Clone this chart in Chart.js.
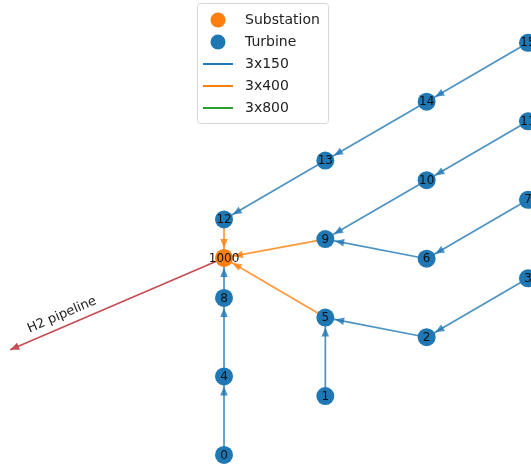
<!DOCTYPE html>
<html>
<head>
<meta charset="utf-8">
<script src="https://cdn.jsdelivr.net/npm/chart.js@4.4.1/dist/chart.umd.min.js"></script>
<style>
  body { margin: 0; background: #fff; }
  #wrap { position: relative; width: 531px; height: 464px; }
</style>
</head>
<body>
<div id="wrap"><canvas id="layoutChart"></canvas></div>
<script>
// Turbines (grid positions, arbitrary units)
const turbineIds = [0, 1, 2, 3, 4, 5, 6, 7, 8, 9, 10, 11, 12, 13, 14, 15];
const turbineX = [0, 1, 2, 3, 0, 1, 2, 3, 0, 1, 2, 3, 0, 1, 2, 3];
const turbineY = [0, 0.75, 1.5, 2.25, 1, 1.75, 2.5, 3.25, 2, 2.75, 3.5, 4.25, 3, 3.75, 4.5, 5.25];

// Substation
const substationId = 1000;
const substationX = 0;
const substationY = 2.51;

// Cables: from -> to, cable type
const edgeFrom = [0, 4, 8, 12, 13, 14, 1, 5, 9, 10, 11, 6, 7, 2, 3, 15];
const edgeTo   = [4, 8, 1000, 1000, 12, 13, 5, 1000, 1000, 9, 10, 9, 6, 5, 2, 14];
const edgeType = ['3x150', '3x150', '3x150', '3x400', '3x150', '3x150', '3x150', '3x400', '3x400', '3x150', '3x150', '3x150', '3x150', '3x150', '3x150', '3x150'];

// Export pipeline
const pipelineLabel = 'H2 pipeline';
const pipelineEnd = [-2.11, 1.34];

const cableColors = { '3x150': '#1f77b4', '3x400': '#ff7f0e', '3x800': '#2ca02c' };
const edgeColors = { '3x150': 'rgba(31,119,180,0.8)', '3x400': 'rgba(255,127,14,0.8)', '3x800': 'rgba(44,160,44,0.8)' };
const legendNodes = ['Substation', 'Turbine'];
const legendCables = ['3x150', '3x400', '3x800'];

function nodePos(id) {
    if (id === substationId) return [substationX, substationY];
    const i = turbineIds.indexOf(id);
    return [turbineX[i], turbineY[i]];
}

const NODE_R = 9;

// Edge datasets
const edgeDatasets = edgeFrom.map(function (f, k) {
    const a = nodePos(f), b = nodePos(edgeTo[k]);
    return {
        type: 'line',
        data: [{ x: a[0], y: a[1] }, { x: b[0], y: b[1] }],
        borderColor: edgeColors[edgeType[k]],
        borderWidth: 1.7,
        pointRadius: 0,
        showLine: true,
        order: 2,
        clip: false,
        arrow: true
    };
});

const pipelineDataset = {
    type: 'line',
    data: [{ x: substationX, y: substationY }, { x: pipelineEnd[0], y: pipelineEnd[1] }],
    borderColor: '#c44e52',
    borderWidth: 1.7,
    pointRadius: 0,
    showLine: true,
    order: 2,
    clip: false,
    arrow: true,
    pipeline: true
};

// Arrowheads, node labels, pipeline label, legend
const overlayPlugin = {
    id: 'overlay',
    afterDatasetsDraw(chart) {
        const ctx = chart.ctx;
        const xs = chart.scales.x, ys = chart.scales.y;
        ctx.save();
        // arrowheads
        chart.data.datasets.forEach(function (ds) {
            if (!ds.arrow) return;
            const x1 = xs.getPixelForValue(ds.data[0].x), y1 = ys.getPixelForValue(ds.data[0].y);
            const x2 = xs.getPixelForValue(ds.data[1].x), y2 = ys.getPixelForValue(ds.data[1].y);
            const ang = Math.atan2(y2 - y1, x2 - x1);
            const off = ds.pipeline ? 0 : NODE_R + 1;
            const tx = x2 - Math.cos(ang) * off, ty = y2 - Math.sin(ang) * off;
            const len = 9, hw = 3.8;
            const bx = tx - Math.cos(ang) * len, by = ty - Math.sin(ang) * len;
            ctx.fillStyle = ds.borderColor;
            ctx.beginPath();
            ctx.moveTo(tx, ty);
            ctx.lineTo(bx - Math.sin(ang) * hw, by + Math.cos(ang) * hw);
            ctx.lineTo(bx + Math.sin(ang) * hw, by - Math.cos(ang) * hw);
            ctx.closePath();
            ctx.fill();
        });

        // node labels
        ctx.fillStyle = '#111';
        ctx.font = '12px "DejaVu Sans"';
        ctx.textAlign = 'center';
        ctx.textBaseline = 'middle';
        turbineIds.forEach(function (id, i) {
            ctx.fillText(String(id), xs.getPixelForValue(turbineX[i]), ys.getPixelForValue(turbineY[i]) + 0.5);
        });
        ctx.fillText(String(substationId), xs.getPixelForValue(substationX), ys.getPixelForValue(substationY) + 0.5);

        // pipeline label
        const px1 = xs.getPixelForValue(substationX), py1 = ys.getPixelForValue(substationY);
        const px2 = xs.getPixelForValue(pipelineEnd[0]), py2 = ys.getPixelForValue(pipelineEnd[1]);
        const pang = Math.atan2(py1 - py2, px1 - px2);
        ctx.save();
        ctx.translate(62, 315);
        ctx.rotate(pang);
        ctx.font = '13px "DejaVu Sans"';
        ctx.fillStyle = '#222';
        ctx.fillText(pipelineLabel, 0, 0);
        ctx.restore();

        // legend
        const lx = 197, ly = 3, lw = 131, lh = 120;
        ctx.fillStyle = 'rgba(255,255,255,0.85)';
        ctx.strokeStyle = '#d6d6d6';
        ctx.lineWidth = 1;
        ctx.beginPath();
        ctx.roundRect(lx + 0.5, ly + 0.5, lw, lh, 3);
        ctx.fill();
        ctx.stroke();
        ctx.font = '14px "DejaVu Sans"';
        ctx.textAlign = 'left';
        ctx.textBaseline = 'middle';
        const rows = [20, 42, 64, 86, 108];
        const nodeCols = ['#ff7f0e', '#1f77b4'];
        legendNodes.forEach(function (name, i) {
            ctx.fillStyle = nodeCols[i];
            ctx.beginPath();
            ctx.arc(218, rows[i], 7.5, 0, Math.PI * 2);
            ctx.fill();
            ctx.fillStyle = '#222';
            ctx.fillText(name, 245, rows[i]);
        });
        legendCables.forEach(function (name, i) {
            const y = rows[i + 2];
            ctx.strokeStyle = cableColors[name];
            ctx.lineWidth = 2;
            ctx.beginPath();
            ctx.moveTo(203, y);
            ctx.lineTo(233, y);
            ctx.stroke();
            ctx.fillStyle = '#222';
            ctx.fillText(name, 245, y);
        });
        ctx.restore();
    }
};

const ctx = document.getElementById('layoutChart').getContext('2d');
const layoutChart = new Chart(ctx, {
    type: 'scatter',
    data: {
        datasets: [
            {
                label: 'Turbine',
                data: turbineIds.map(function (id, i) { return { x: turbineX[i], y: turbineY[i] }; }),
                backgroundColor: '#1f77b4',
                borderWidth: 0,
                pointRadius: NODE_R,
                order: 0,
                clip: false
            },
            {
                label: 'Substation',
                data: [{ x: substationX, y: substationY }],
                backgroundColor: '#ff7f0e',
                borderWidth: 0,
                pointRadius: NODE_R,
                order: 0,
                clip: false
            },
            pipelineDataset
        ].concat(edgeDatasets)
    },
    options: {
        responsive: true,
        maintainAspectRatio: false,
        animation: false,
        layout: { padding: 0, autoPadding: false },
        plugins: {
            legend: { display: false },
            tooltip: { enabled: false }
        },
        scales: {
            x: { type: 'linear', min: -2.211, max: 3.03, display: false },
            y: { type: 'linear', min: -0.115, max: 5.796, display: false }
        }
    },
    plugins: [overlayPlugin]
});
</script>
</body>
</html>
